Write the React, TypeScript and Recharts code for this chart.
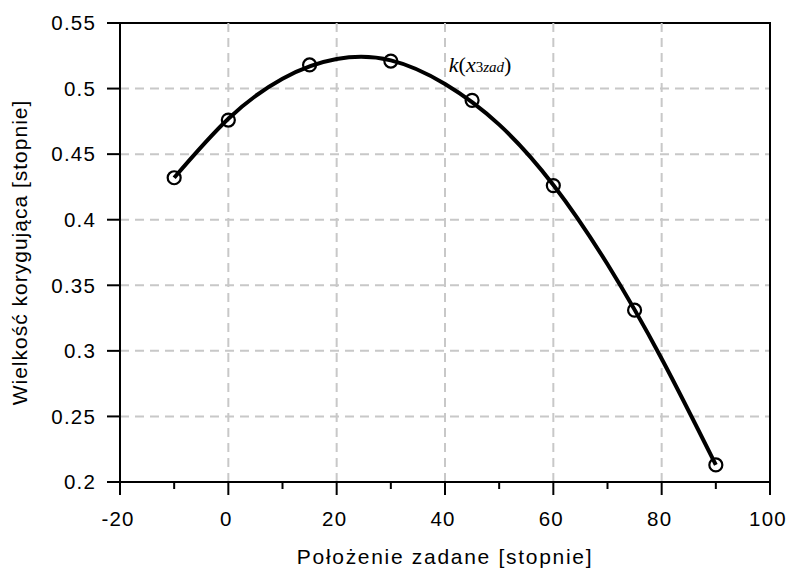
import {
  ComposedChart, Line, Scatter, XAxis, YAxis, CartesianGrid,
  ReferenceLine, ReferenceArea, ReferenceDot,
} from "recharts";

// measured points (circles)
const polozenia = [-10, 0, 15, 30, 45, 60, 75, 90];
const wielkosci = [0.432, 0.476, 0.518, 0.521, 0.491, 0.426, 0.331, 0.213];

// fitted curve k(x3zad)
const krzyweX = [-10, 0, 10, 20, 30, 40, 50, 60, 70, 80, 90];
const krzyweY = [0.432, 0.477, 0.5075, 0.5225, 0.5215, 0.5035, 0.4725, 0.4265, 0.366, 0.294, 0.213];

const xTicks = [-20, -10, 0, 10, 20, 30, 40, 50, 60, 70, 80, 90, 100];
const xMajor = [-20, 0, 20, 40, 60, 80, 100];
const xGrid = [0, 20, 40, 60, 80];
const yTicks = [0.2, 0.25, 0.3, 0.35, 0.4, 0.45, 0.5, 0.55];

const punkty = polozenia.map((x, i) => ({ x, y: wielkosci[i] }));
const krzywa = krzyweX.map((x, i) => ({ x, y: krzyweY[i] }));

const FONT = "'Liberation Sans', Arial, sans-serif";
const GRID = "#c8c8c8";

function XTick(props: any) {
  const { x, y, payload } = props;
  const major = xMajor.includes(payload.value);
  return (
    <g>
      <line x1={x} x2={x} y1={y} y2={y + (major ? 13 : 7)} stroke="#000" strokeWidth={2} />
      {major && (
        <text x={x - 2} y={y + 29} dy="0.71em" textAnchor="middle" fontSize={20.5} fontFamily={FONT} fill="#000" letterSpacing={1.2}>
          {payload.value}
        </text>
      )}
    </g>
  );
}

export default function App() {
  return (
    <div style={{ position: "absolute", left: 0, top: 0, background: "#fff" }}>
      <ComposedChart width={787} height={574} margin={{ top: 23, right: 17, bottom: 0, left: 0 }}>
        <CartesianGrid vertical={false} stroke={GRID} strokeWidth={2} strokeDasharray="9 6" />
        {xGrid.map((v) => (
          <ReferenceLine key={v} x={v} stroke={GRID} strokeWidth={2} strokeDasharray="9 6" />
        ))}
        <XAxis
          dataKey="x"
          type="number"
          domain={[-20, 100]}
          ticks={xTicks}
          interval={0}
          height={92}
          axisLine={{ stroke: "#000", strokeWidth: 2 }}
          tickLine={false}
          tickSize={0}
          tickMargin={0}
          tick={<XTick />}
          allowDataOverflow
          label={(p: any) => {
            const vb = p.viewBox;
            return (
              <text x={vb.x + vb.width / 2} y={564} textAnchor="middle" fontSize={21} fontFamily={FONT} fill="#000" letterSpacing={1.7}>
                Położenie zadane [stopnie]
              </text>
            );
          }}
        />
        <YAxis
          type="number"
          domain={[0.2, 0.55]}
          ticks={yTicks}
          interval={0}
          width={120}
          axisLine={{ stroke: "#000", strokeWidth: 2 }}
          tickLine={{ stroke: "#000", strokeWidth: 2 }}
          tickSize={13}
          tickMargin={11}
          tick={{ fontSize: 20.5, fontFamily: FONT, fill: "#000", letterSpacing: 1.2 }}
          allowDataOverflow
          label={(p: any) => {
            const vb = p.viewBox;
            const cy = vb.y + vb.height / 2;
            return (
              <text x={27} y={cy} transform={`rotate(-90 27 ${cy})`} textAnchor="middle" fontSize={21} fontFamily={FONT} fill="#000" letterSpacing={1}>
                Wielkość korygująca [stopnie]
              </text>
            );
          }}
        />
        <ReferenceArea x1={-20} x2={100} y1={0.2} y2={0.55} fill="none" stroke="#000" strokeWidth={2} />
        <Line
          data={krzywa}
          dataKey="y"
          type="natural"
          stroke="#000"
          strokeWidth={4}
          dot={false}
          activeDot={false}
          isAnimationActive={false}
        />
        <Scatter
          data={punkty}
          dataKey="y"
          isAnimationActive={false}
          shape={(p: any) => <circle cx={p.cx} cy={p.cy} r={6.5} fill="none" stroke="#000" strokeWidth={2.2} />}
        />
        <ReferenceDot
          x={40.7}
          y={0.5126}
          r={0}
          shape={(p: any) => (
            <text x={p.cx} y={p.cy} fontFamily="'Liberation Serif', 'Times New Roman', serif" fontSize={22} fill="#000">
              <tspan fontStyle="italic">k</tspan>
              <tspan>(</tspan>
              <tspan fontStyle="italic">x</tspan>
              <tspan fontSize={15}>3</tspan>
              <tspan fontSize={15} fontStyle="italic">zad</tspan>
              <tspan>)</tspan>
            </text>
          )}
        />
      </ComposedChart>
    </div>
  );
}
